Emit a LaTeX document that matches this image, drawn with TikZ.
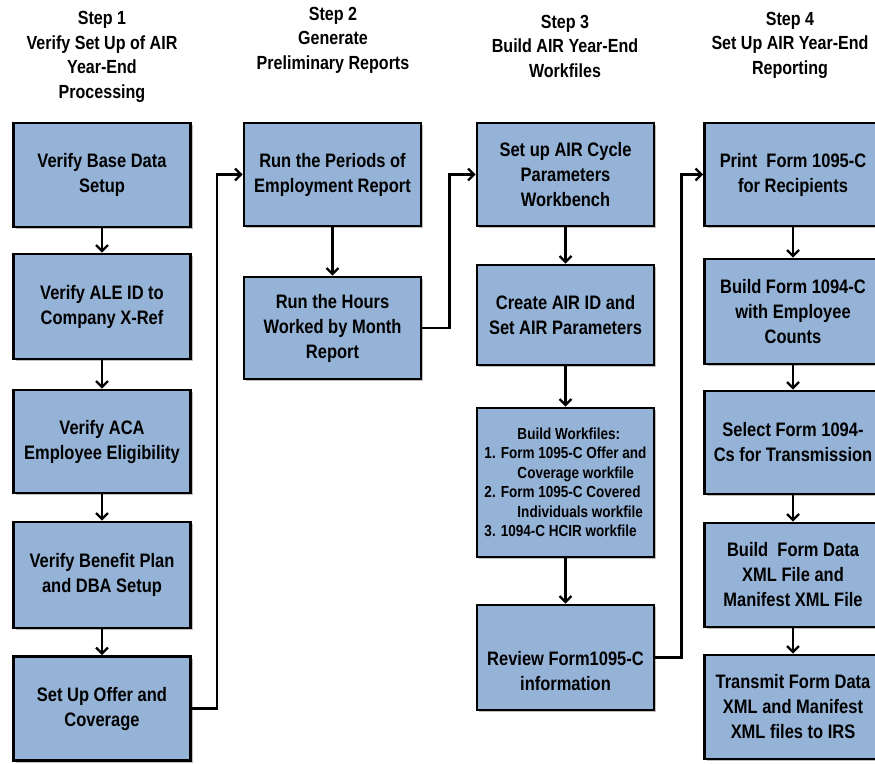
\documentclass[tikz,border=0pt]{standalone}
\usepackage{fontspec}
\setmainfont{Liberation Sans}[FakeStretch=0.845]
\usetikzlibrary{arrows.meta,shadows}
\definecolor{boxblue}{HTML}{95B3D7}
\tikzset{
  stepbox/.style={draw=black,line width=2.6pt,fill=boxblue,align=center,
    minimum width=177pt,inner sep=2pt,font=\fontsize{19.5}{25}\selectfont\bfseries,
    drop shadow={shadow xshift=2pt,shadow yshift=-2pt,fill=black,opacity=0.25}},
  head/.style={align=center,font=\fontsize{19}{24.5}\selectfont\bfseries},
  conn/.style={line width=2.6pt,-{Straight Barb[length=6pt,width=12pt,line width=2.4pt]}},
}
\begin{document}
\begin{tikzpicture}[x=1pt,y=-1pt]
  \clip (0,0) rectangle (875,763);
  % headers
  \node[head] (h1) at (102,57) {Step 1\\Verify Set Up of AIR\\Year-End\\Processing};
  \node[head] (h2) at (333,40) {Step 2\\Generate\\Preliminary Reports};
  \node[head] (h3) at (565,46) {Step 3\\Build AIR Year-End\\Workfiles};
  \node[head] (h4) at (790,45) {Step 4\\Set Up AIR Year-End\\Reporting};
  % step 1
  \node[stepbox,minimum height=104pt] (a1) at (102,175) {Verify Base Data\\Setup};
  \node[stepbox,minimum height=105pt] (a2) at (102,306.5) {Verify ALE ID to\\Company X-Ref};
  \node[stepbox,minimum height=103pt] (a3) at (102,441.5) {Verify ACA\\Employee Eligibility};
  \node[stepbox,minimum height=106pt] (a4) at (102,575) {Verify Benefit Plan\\and DBA Setup};
  \node[stepbox,minimum height=104pt] (a5) at (102,708.5) {Set Up Offer and\\Coverage};
  % step 2
  \node[stepbox,minimum height=103pt] (b1) at (332.5,174.5) {Run the Periods of\\Employment Report};
  \node[stepbox,minimum height=102pt] (b2) at (332.5,328) {Run the Hours\\Worked by Month\\Report};
  % step 3
  \node[stepbox,minimum height=103pt] (c1) at (565.5,174.5) {Set up AIR Cycle\\Parameters\\Workbench};
  \node[stepbox,minimum height=100pt] (c2) at (565.5,315) {Create AIR ID and\\Set AIR Parameters};
  \node[stepbox,minimum height=149pt,align=left,font=\fontsize{16}{19.5}\selectfont\bfseries] (c3) at (565.5,482.5)
    {\hspace*{33pt}Build Workfiles:\\1. Form 1095-C Offer and\\\hspace*{33pt}Coverage workfile\\
     2. Form 1095-C Covered\\\hspace*{33pt}Individuals workfile\\3. 1094-C HCIR workfile};
  \node[stepbox,minimum height=105pt] (c4) at (565.5,657.5) {\mbox{}\\[16pt]Review Form1095-C\\information};
  % step 4
  \node[stepbox,minimum height=103pt] (d1) at (793,174.5) {Print\ \ Form 1095-C\\for Recipients};
  \node[stepbox,minimum height=105pt] (d2) at (793,311.5) {Build Form 1094-C\\with Employee\\Counts};
  \node[stepbox,minimum height=103pt] (d3) at (793,442.5) {Select Form 1094-\\Cs for Transmission};
  \node[stepbox,minimum height=104pt] (d4) at (793,575) {Build\ \ Form Data\\XML File and\\Manifest XML File};
  \node[stepbox,minimum height=104pt] (d5) at (793,707) {Transmit Form Data\\XML and Manifest\\XML files to IRS};
  % connectors
  \draw[conn] (a1) -- (a2);
  \draw[conn] (a2) -- (a3);
  \draw[conn] (a3) -- (a4);
  \draw[conn] (a4) -- (a5);
  \draw[conn] (a5.east) -- ++(25,0) |- (b1.west);
  \draw[conn] (b1) -- (b2);
  \draw[conn] (b2.east) -- ++(27,0) |- (c1.west);
  \draw[conn] (c1) -- (c2);
  \draw[conn] (c2) -- (c3);
  \draw[conn] (c3) -- (c4);
  \draw[conn] (c4.east) -- ++(26,0) |- (d1.west);
  \draw[conn] (d1) -- (d2);
  \draw[conn] (d2) -- (d3);
  \draw[conn] (d3) -- (d4);
  \draw[conn] (d4) -- (d5);
\end{tikzpicture}
\end{document}
